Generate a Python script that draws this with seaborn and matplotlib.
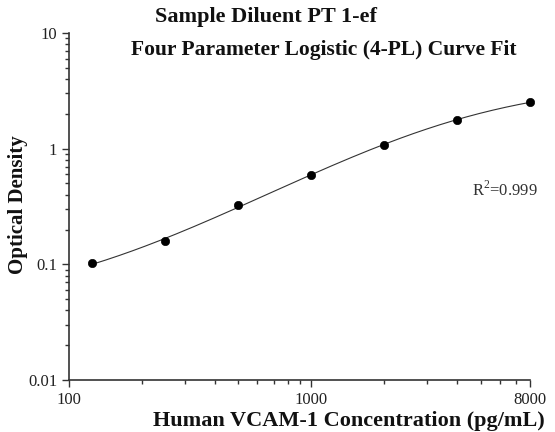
import numpy as np
import pandas as pd
import matplotlib
matplotlib.use("Agg")
import matplotlib.pyplot as plt
import seaborn as sns

# standard concentrations (pg/mL) and measured optical density
conc = [125, 250, 500, 1000, 2000, 4000, 8000]
od = [0.102, 0.159, 0.327, 0.595, 1.077, 1.77, 2.53]
r2_text = "R$^2$=0.999"

sns.set_style("ticks")
plt.rcParams['font.family'] = ['Liberation Serif', 'DejaVu Serif']
plt.rcParams['mathtext.fontset'] = 'custom'
plt.rcParams['mathtext.rm'] = 'Liberation Serif'


def fit_4pl(x, y):
    # grid over the asymptotes, linear regression for slope / midpoint
    lx = np.log(x)
    best = None
    for a in np.linspace(0.0, min(y) * 0.98, 60):
        for d in np.linspace(max(y) * 1.02, max(y) * 6, 150):
            z = np.log((y - a) / (d - y))
            b, k = np.polyfit(lx, z, 1)
            c = np.exp(-k / b)
            pred = d + (a - d) / (1 + (x / c) ** b)
            sse = np.sum((np.log(pred) - np.log(y)) ** 2)
            if best is None or sse < best[0]:
                best = (sse, a, b, c, d)
    return best[1:]


df = pd.DataFrame({"conc": conc, "od": od})
a, b, c, d = fit_4pl(df["conc"].values.astype(float), df["od"].values)
xs = np.logspace(np.log10(conc[0]), np.log10(conc[-1]), 200)
curve = pd.DataFrame({"conc": xs, "od": d + (a - d) / (1 + (xs / c) ** b)})

fig = plt.figure(figsize=(5.55, 4.32), dpi=100)
ax = fig.add_axes([0.1243, 0.1204, 0.8307, 0.8032])

sns.lineplot(data=curve, x="conc", y="od", ax=ax, color="#333333", linewidth=0.8)
sns.scatterplot(data=df, x="conc", y="od", ax=ax, color="black", s=36,
                edgecolor="black", zorder=3, clip_on=False)

ax.set_xscale("log")
ax.set_yscale("log")
ax.set_xlim(100, 8000)
ax.set_ylim(0.01, 10)
ax.set_xticks([100, 1000, 8000])
ax.set_xticklabels(["100", "1000", "8000"])
ax.set_yticks([0.01, 0.1, 1, 10])
ax.set_yticklabels(["0.01", "0.1", "1", "10"])
ax.tick_params(axis="both", which="major", labelsize=12, length=5, width=1,
               color="#333333", labelcolor="#222222")
ax.tick_params(axis="both", which="minor", length=3, width=1, color="#333333")
for side in ["top", "right"]:
    ax.spines[side].set_visible(False)
for side in ["left", "bottom"]:
    ax.spines[side].set_color("#333333")
    ax.spines[side].set_linewidth(1.2)

ax.set_xlabel("Human VCAM-1 Concentration (pg/mL)", fontsize=16,
              fontweight="bold", color="#111111")
ax.xaxis.set_label_coords(0.607, -0.088)
ax.set_ylabel("Optical Density", fontsize=15, fontweight="bold",
              color="#111111")
ax.yaxis.set_label_coords(-0.088, 0.504)

fig.text(266 / 555, 1 - 17 / 432, "Sample Diluent PT 1-ef", fontsize=16,
         fontweight="bold", ha="center", va="center", color="#111111")
fig.text(324 / 555, 1 - 50 / 432, "Four Parameter Logistic (4-PL) Curve Fit",
         fontsize=15.5, fontweight="bold", ha="center", va="center", color="#111111")
ax.text(0.946, 0.548, r2_text, transform=ax.transAxes, fontsize=12,
        ha="center", va="center", color="#333333")

fig.savefig("out.png", dpi=100)
